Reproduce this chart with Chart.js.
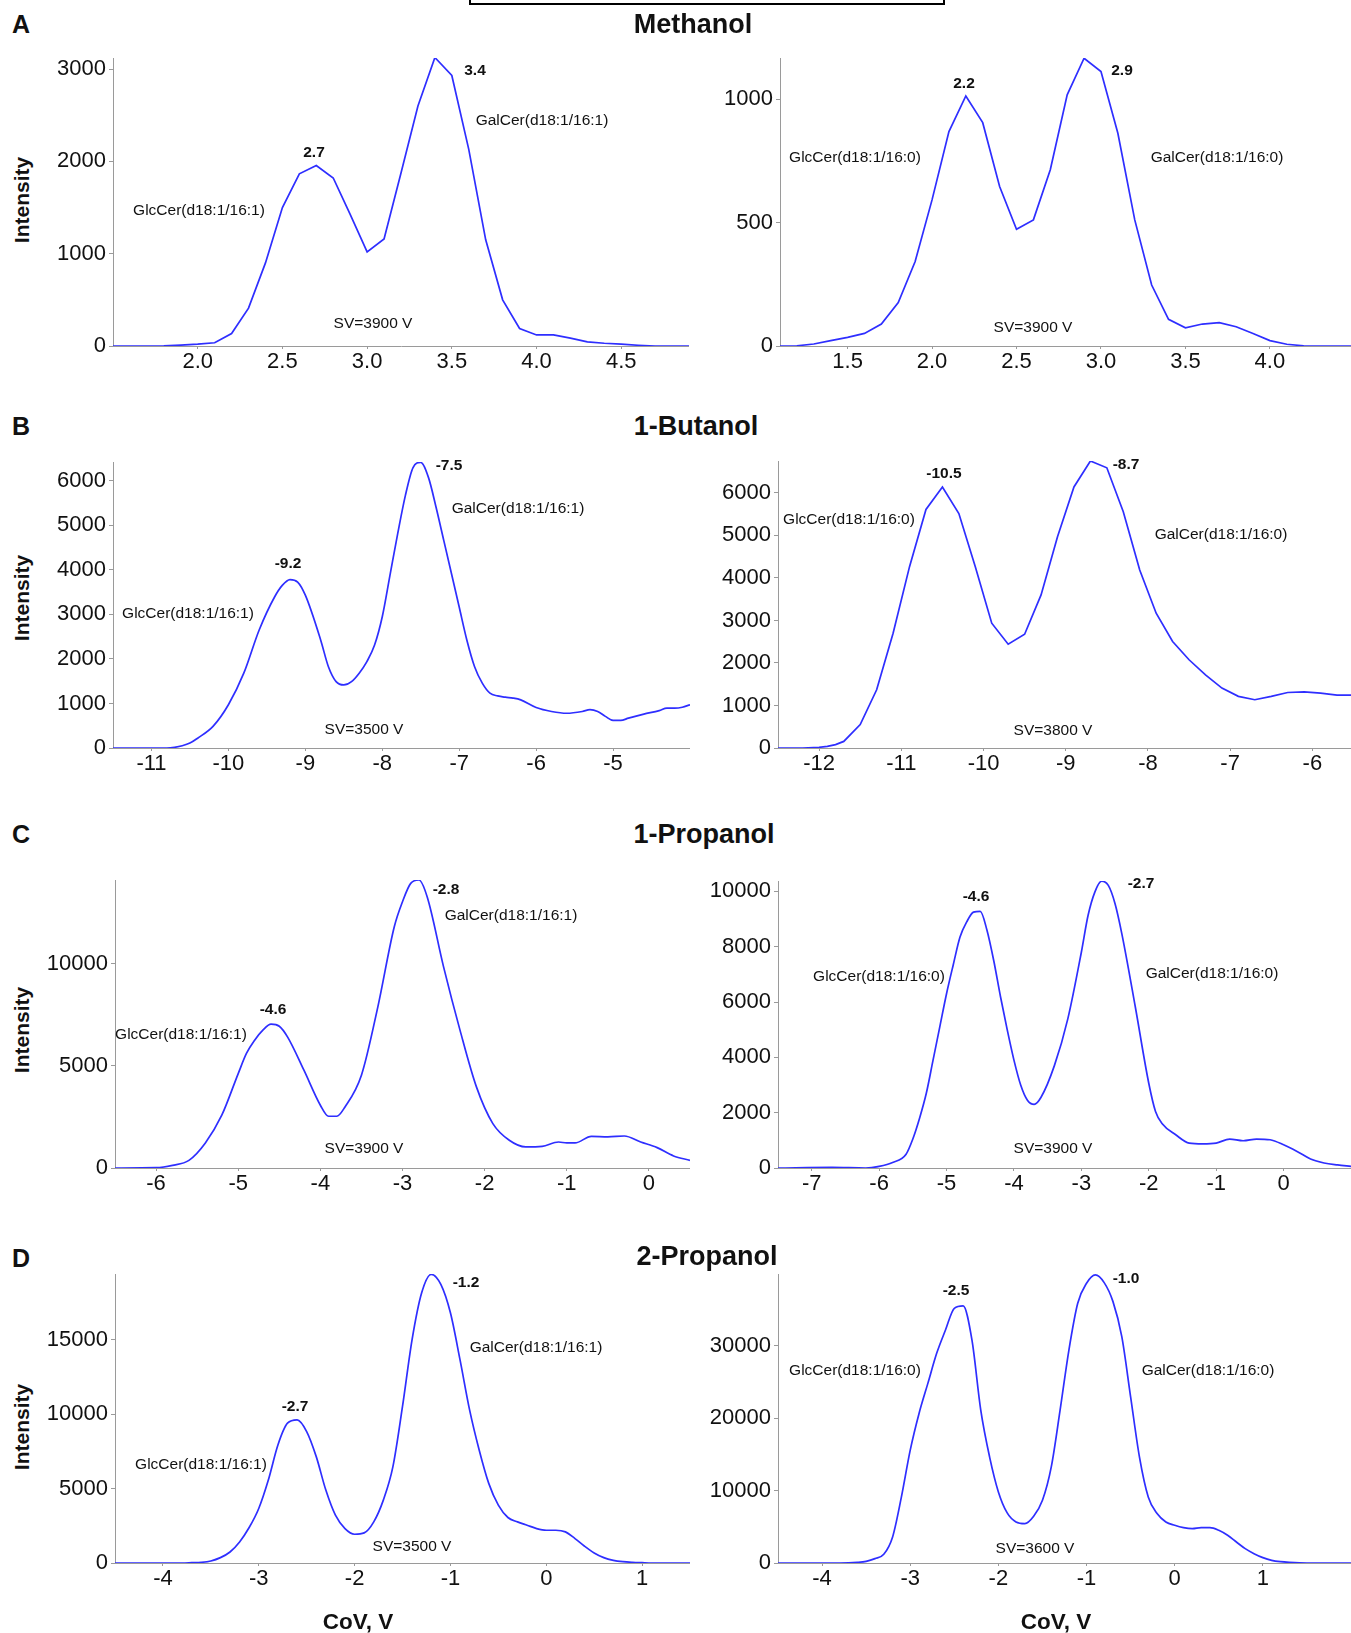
<!DOCTYPE html>
<html>
<head>
<meta charset="utf-8">
<title>GlcCer / GalCer CoV scans</title>
<script src="https://cdn.jsdelivr.net/npm/chart.js@4.4.1/dist/chart.umd.min.js"></script>
<style>
  html, body { margin: 0; padding: 0; background: #fff; overflow: hidden; }
  #figure { position: relative; width: 1351px; height: 1633px; font-family: "Liberation Sans", Arial, sans-serif; color: #111; }
  #figure canvas { position: absolute; }
  .txt { position: absolute; transform: translate(-50%, -50%); white-space: nowrap; line-height: 1; }
  .peak { font-weight: bold; font-size: 15.5px; }
  .name { font-size: 15.5px; }
  .title { font-weight: bold; font-size: 27px; }
  .letter { font-weight: bold; font-size: 25px; }
  .axis { font-weight: bold; font-size: 22.5px; }
  .ylab { font-weight: bold; font-size: 21px; transform: translate(-50%, -50%) rotate(-90deg); }
  .frame { position: absolute; left: 469px; top: -20px; width: 472px; height: 21px; border: 2px solid #000; }
</style>
</head>
<body>
<div id="figure"><div class="frame"></div></div>

<script>
/* =========================================================
   CoV SCANS - GlcCer / GalCer, 4 modifiers x 2 species
   ========================================================= */

// ---- A: Methanol ----
const X_METH_161 = [1.5, 1.6, 1.7, 1.8, 1.9, 2.0, 2.1, 2.2, 2.3, 2.4, 2.5, 2.6, 2.7, 2.8, 2.9, 3.0, 3.1, 3.2, 3.3, 3.4, 3.5, 3.6, 3.7, 3.8, 3.9, 4.0, 4.1, 4.2, 4.3, 4.4, 4.5, 4.6, 4.7, 4.8, 4.9];
const Y_METH_161 = [0, 0, 0, 2, 10, 20, 35, 135, 410, 900, 1500, 1865, 1955, 1820, 1425, 1020, 1160, 1875, 2600, 3125, 2930, 2130, 1150, 500, 190, 120, 120, 85, 45, 30, 20, 8, 0, 0, 0];
const XT_METH_161 = [2.0, 2.5, 3.0, 3.5, 4.0, 4.5];
const YT_METH_161 = [0, 1000, 2000, 3000];

const X_METH_160 = [1.1, 1.2, 1.3, 1.4, 1.5, 1.6, 1.7, 1.8, 1.9, 2.0, 2.1, 2.2, 2.3, 2.4, 2.5, 2.6, 2.7, 2.8, 2.9, 3.0, 3.1, 3.2, 3.3, 3.4, 3.5, 3.6, 3.7, 3.8, 3.9, 4.0, 4.1, 4.2, 4.3, 4.4, 4.5];
const Y_METH_160 = [0, 1, 8, 22, 35, 51, 89, 176, 342, 592, 869, 1013, 905, 646, 473, 511, 714, 1018, 1166, 1112, 862, 511, 247, 108, 74, 89, 95, 78, 51, 22, 7, 1, 0, 0, 0];
const XT_METH_160 = [1.5, 2.0, 2.5, 3.0, 3.5, 4.0];
const YT_METH_160 = [0, 500, 1000];

// ---- B: 1-Butanol ----
const X_BUT_161 = [-11.5, -10.8, -10.7, -10.6, -10.5, -10.4, -10.2, -10.0, -9.8, -9.6, -9.4, -9.3, -9.2, -9.1, -9.0, -8.8, -8.7, -8.6, -8.5, -8.4, -8.3, -8.2, -8.1, -8.0, -7.9, -7.8, -7.7, -7.6, -7.5, -7.4, -7.3, -7.2, -7.1, -7.0, -6.9, -6.8, -6.7, -6.6, -6.5, -6.4, -6.3, -6.2, -6.0, -5.8, -5.6, -5.4, -5.3, -5.2, -5.1, -5.0, -4.9, -4.8, -4.6, -4.4, -4.3, -4.2, -4.1, -4.0];
const Y_BUT_161 = [0, 0, 15, 50, 110, 220, 485, 970, 1680, 2650, 3390, 3650, 3780, 3725, 3430, 2420, 1825, 1490, 1415, 1490, 1680, 1940, 2310, 2945, 3875, 4805, 5665, 6295, 6410, 6075, 5400, 4655, 3910, 3165, 2420, 1825, 1455, 1230, 1170, 1140, 1120, 1080, 910, 820, 780, 820, 860, 820, 710, 620, 620, 670, 760, 840, 895, 895, 915, 970];
const XT_BUT_161 = [-11, -10, -9, -8, -7, -6, -5];
const YT_BUT_161 = [0, 1000, 2000, 3000, 4000, 5000, 6000];

const X_BUT_160 = [-12.5, -12.2, -12.0, -11.9, -11.8, -11.7, -11.5, -11.3, -11.1, -10.9, -10.7, -10.5, -10.3, -10.1, -9.9, -9.7, -9.5, -9.3, -9.1, -8.9, -8.7, -8.5, -8.3, -8.1, -7.9, -7.7, -7.5, -7.3, -7.1, -6.9, -6.7, -6.5, -6.3, -6.1, -5.9, -5.7, -5.5];
const Y_BUT_160 = [0, 0, 15, 40, 80, 155, 550, 1370, 2700, 4265, 5610, 6140, 5515, 4265, 2935, 2440, 2675, 3600, 4970, 6140, 6750, 6590, 5555, 4185, 3170, 2505, 2075, 1720, 1410, 1215, 1135, 1215, 1305, 1320, 1290, 1245, 1245];
const XT_BUT_160 = [-12, -11, -10, -9, -8, -7, -6];
const YT_BUT_160 = [0, 1000, 2000, 3000, 4000, 5000, 6000];

// ---- C: 1-Propanol ----
const X_PROP1_161 = [-6.5, -6.0, -5.8, -5.6, -5.4, -5.2, -5.0, -4.9, -4.8, -4.7, -4.6, -4.5, -4.4, -4.2, -4.0, -3.9, -3.8, -3.7, -3.5, -3.3, -3.1, -3.0, -2.9, -2.8, -2.7, -2.5, -2.3, -2.1, -1.9, -1.7, -1.5, -1.3, -1.1, -1.0, -0.9, -0.7, -0.5, -0.3, -0.1, 0.1, 0.3, 0.5];
const Y_PROP1_161 = [0, 15, 130, 375, 1225, 2580, 4615, 5600, 6250, 6740, 7030, 6930, 6410, 4780, 3070, 2530, 2530, 2985, 4535, 7880, 11795, 13020, 13915, 14080, 13265, 9835, 6740, 3965, 2170, 1355, 1030, 1060, 1270, 1225, 1225, 1550, 1520, 1565, 1270, 995, 590, 375];
const XT_PROP1_161 = [-6, -5, -4, -3, -2, -1, 0];
const YT_PROP1_161 = [0, 5000, 10000];

const X_PROP1_160 = [-7.5, -6.7, -6.2, -6.0, -5.8, -5.6, -5.5, -5.4, -5.3, -5.2, -5.1, -5.0, -4.9, -4.8, -4.7, -4.6, -4.5, -4.4, -4.3, -4.2, -4.1, -4.0, -3.9, -3.8, -3.7, -3.6, -3.4, -3.2, -3.0, -2.9, -2.8, -2.7, -2.6, -2.5, -2.4, -2.2, -2.0, -1.9, -1.8, -1.6, -1.4, -1.2, -1.0, -0.8, -0.6, -0.4, -0.2, 0.0, 0.2, 0.4, 0.6, 0.8, 1.0];
const Y_PROP1_160 = [0, 20, 0, 60, 200, 500, 1050, 1800, 2700, 3900, 5100, 6300, 7350, 8350, 8900, 9250, 9280, 8595, 7500, 6200, 5000, 3900, 3000, 2450, 2300, 2550, 3700, 5400, 7800, 9135, 9975, 10370, 10215, 9555, 8475, 5830, 3065, 2045, 1600, 1200, 900, 875, 900, 1045, 985, 1045, 1020, 840, 600, 325, 180, 110, 60];
const XT_PROP1_160 = [-7, -6, -5, -4, -3, -2, -1, 0];
const YT_PROP1_160 = [0, 2000, 4000, 6000, 8000, 10000];

// ---- D: 2-Propanol ----
const X_PROP2_161 = [-4.5, -3.8, -3.7, -3.6, -3.5, -3.4, -3.3, -3.2, -3.1, -3.0, -2.9, -2.8, -2.7, -2.6, -2.5, -2.4, -2.3, -2.2, -2.1, -2.0, -1.9, -1.8, -1.7, -1.6, -1.5, -1.4, -1.3, -1.2, -1.1, -1.0, -0.9, -0.8, -0.7, -0.6, -0.5, -0.4, -0.3, -0.2, -0.1, 0.0, 0.1, 0.2, 0.3, 0.4, 0.5, 0.6, 0.7, 0.8, 0.9, 1.0, 1.1, 1.5];
const Y_PROP2_161 = [0, 0, 20, 45, 135, 360, 740, 1415, 2380, 3660, 5570, 7925, 9385, 9610, 8825, 7140, 4895, 3210, 2310, 1930, 2020, 2760, 4220, 6465, 10510, 15000, 18140, 19375, 18700, 16795, 13650, 10280, 7590, 5345, 3885, 3055, 2760, 2535, 2310, 2200, 2200, 2090, 1640, 1125, 675, 360, 180, 90, 45, 20, 0, 0];
const XT_PROP2_161 = [-4, -3, -2, -1, 0, 1];
const YT_PROP2_161 = [0, 5000, 10000, 15000];

const X_PROP2_160 = [-4.5, -3.8, -3.6, -3.5, -3.4, -3.3, -3.2, -3.1, -3.0, -2.9, -2.8, -2.7, -2.6, -2.5, -2.4, -2.3, -2.2, -2.1, -2.0, -1.9, -1.8, -1.7, -1.6, -1.5, -1.4, -1.3, -1.2, -1.1, -1.0, -0.9, -0.8, -0.7, -0.6, -0.5, -0.4, -0.3, -0.2, -0.1, 0.0, 0.1, 0.2, 0.3, 0.4, 0.5, 0.6, 0.7, 0.8, 0.9, 1.0, 1.1, 1.2, 1.3, 1.5, 2.0];
const Y_PROP2_160 = [0, 0, 90, 230, 600, 1200, 3600, 9135, 15600, 20675, 24830, 28980, 32210, 35210, 35535, 30830, 21135, 14675, 9830, 6920, 5675, 5445, 6460, 8675, 13290, 21135, 29440, 35900, 38670, 39825, 38760, 36130, 31290, 22980, 14675, 9135, 6830, 5675, 5215, 4890, 4755, 4890, 4890, 4520, 3830, 2905, 1985, 1290, 740, 370, 185, 90, 0, 0];
const XT_PROP2_160 = [-4, -3, -2, -1, 0, 1];
const YT_PROP2_160 = [0, 10000, 20000, 30000];


const LINE_COLOR = "#2e2eff";
const AXIS_COLOR = "#9a9a9a";
const TICK_FONT = { family: "Liberation Sans, Arial, sans-serif", size: 22 };

const Y_AXIS_W = 75;
const X_AXIS_H = 36;
const PAD_TOP = 20;

const GLC_161 = "GlcCer(d18:1/16:1)";
const GAL_161 = "GalCer(d18:1/16:1)";
const GLC_160 = "GlcCer(d18:1/16:0)";
const GAL_160 = "GalCer(d18:1/16:0)";

// box = [left, top, right, bottom] of the plot area, in page pixels
const PANELS = [
  { xs: X_METH_161, ys: Y_METH_161, xTicks: XT_METH_161, yTicks: YT_METH_161, dec: 1,
    xMin: 1.5, xMax: 4.9, yMax: 3120, box: [113, 58, 689, 346], smooth: false,
    notes: [["2.7", 314, 152, "peak"], ["3.4", 475, 70, "peak"], [GLC_161, 199, 210, "name"], [GAL_161, 542, 120, "name"], ["SV=3900 V", 373, 323, "name"]] },
  { xs: X_METH_160, ys: Y_METH_160, xTicks: XT_METH_160, yTicks: YT_METH_160, dec: 1,
    xMin: 1.1, xMax: 4.48, yMax: 1167, box: [780, 58, 1351, 346], smooth: false,
    notes: [["2.2", 964, 83, "peak"], ["2.9", 1122, 70, "peak"], [GLC_160, 855, 157, "name"], [GAL_160, 1217, 157, "name"], ["SV=3900 V", 1033, 327, "name"]] },
  { xs: X_BUT_161, ys: Y_BUT_161, xTicks: XT_BUT_161, yTicks: YT_BUT_161, dec: 0,
    xMin: -11.5, xMax: -4.0, yMax: 6420, box: [113, 462, 690, 748], smooth: true,
    notes: [["-9.2", 288, 563, "peak"], ["-7.5", 449, 465, "peak"], [GLC_161, 188, 613, "name"], [GAL_161, 518, 508, "name"], ["SV=3500 V", 364, 729, "name"]] },
  { xs: X_BUT_160, ys: Y_BUT_160, xTicks: XT_BUT_160, yTicks: YT_BUT_160, dec: 0,
    xMin: -12.5, xMax: -5.53, yMax: 6750, box: [778, 461, 1351, 748], smooth: false,
    notes: [["-10.5", 944, 473, "peak"], ["-8.7", 1126, 464, "peak"], [GLC_160, 849, 519, "name"], [GAL_160, 1221, 534, "name"], ["SV=3800 V", 1053, 730, "name"]] },
  { xs: X_PROP1_161, ys: Y_PROP1_161, xTicks: XT_PROP1_161, yTicks: YT_PROP1_161, dec: 0,
    xMin: -6.5, xMax: 0.5, yMax: 14080, box: [115, 880, 690, 1168], smooth: true,
    notes: [["-4.6", 273, 1009, "peak"], ["-2.8", 446, 889, "peak"], [GLC_161, 181, 1034, "name"], [GAL_161, 511, 915, "name"], ["SV=3900 V", 364, 1148, "name"]] },
  { xs: X_PROP1_160, ys: Y_PROP1_160, xTicks: XT_PROP1_160, yTicks: YT_PROP1_160, dec: 0,
    xMin: -7.5, xMax: 1.0, yMax: 10375, box: [778, 881, 1351, 1168], smooth: true,
    notes: [["-4.6", 976, 896, "peak"], ["-2.7", 1141, 883, "peak"], [GLC_160, 879, 976, "name"], [GAL_160, 1212, 973, "name"], ["SV=3900 V", 1053, 1148, "name"]] },
  { xs: X_PROP2_161, ys: Y_PROP2_161, xTicks: XT_PROP2_161, yTicks: YT_PROP2_161, dec: 0,
    xMin: -4.5, xMax: 1.5, yMax: 19400, box: [115, 1274, 690, 1563], smooth: true,
    notes: [["-2.7", 295, 1406, "peak"], ["-1.2", 466, 1282, "peak"], [GLC_161, 201, 1464, "name"], [GAL_161, 536, 1347, "name"], ["SV=3500 V", 412, 1546, "name"]] },
  { xs: X_PROP2_160, ys: Y_PROP2_160, xTicks: XT_PROP2_160, yTicks: YT_PROP2_160, dec: 0,
    xMin: -4.5, xMax: 2.0, yMax: 39950, box: [778, 1274, 1351, 1563], smooth: true,
    notes: [["-2.5", 956, 1290, "peak"], ["-1.0", 1126, 1278, "peak"], [GLC_160, 855, 1370, "name"], [GAL_160, 1208, 1370, "name"], ["SV=3600 V", 1035, 1548, "name"]] },
];

// headings, panel letters and axis titles
const LABELS = [
  ["Methanol", 693, 24, "title"], ["1-Butanol", 696, 426, "title"],
  ["1-Propanol", 704, 834, "title"], ["2-Propanol", 707, 1256, "title"],
  ["A", 21, 24, "letter"], ["B", 21, 426, "letter"], ["C", 21, 834, "letter"], ["D", 21, 1258, "letter"],
  ["Intensity", 21, 200, "ylab"], ["Intensity", 21, 598, "ylab"],
  ["Intensity", 21, 1030, "ylab"], ["Intensity", 21, 1427, "ylab"],
  ["CoV, V", 358, 1622, "axis"], ["CoV, V", 1056, 1622, "axis"],
];


document.addEventListener("DOMContentLoaded", function () {
  const figure = document.getElementById("figure");

  PANELS.forEach((panel) => createPanel(figure, panel));

  PANELS.forEach((panel) => {
    panel.notes.forEach((note) => addText(figure, note));
  });

  LABELS.forEach((label) => addText(figure, label));
});


function addText(figure, item) {
  const [text, x, y, cls] = item;
  const div = document.createElement("div");

  div.className = "txt " + cls;
  div.textContent = text;
  div.style.left = x + "px";
  div.style.top = y + "px";

  figure.appendChild(div);
}


function createPanel(figure, panel) {
  const [left, top, right, bottom] = panel.box;
  const width = right - left + Y_AXIS_W;
  const height = bottom - top + PAD_TOP + X_AXIS_H;

  const canvas = document.createElement("canvas");
  canvas.width = width;
  canvas.height = height;
  canvas.style.width = width + "px";
  canvas.style.height = height + "px";
  canvas.style.left = left - Y_AXIS_W + "px";
  canvas.style.top = top - PAD_TOP + "px";
  figure.appendChild(canvas);

  const points = panel.xs.map((x, i) => ({ x: x, y: panel.ys[i] }));

  new Chart(canvas, {
    type: "line",
    data: {
      datasets: [
        {
          data: points,
          borderColor: LINE_COLOR,
          borderWidth: 1.7,
          pointRadius: 0,
          fill: false,
          cubicInterpolationMode: panel.smooth ? "monotone" : "default",
          tension: 0,
        },
      ],
    },
    options: {
      responsive: false,
      animation: false,
      layout: { padding: { top: PAD_TOP, left: 0, right: 0, bottom: 0 } },
      plugins: {
        legend: { display: false },
        tooltip: { enabled: false },
      },
      scales: {
        x: {
          type: "linear",
          min: panel.xMin,
          max: panel.xMax,
          afterBuildTicks: (scale) => {
            scale.ticks = panel.xTicks.map((v) => ({ value: v }));
          },
          afterFit: (scale) => {
            scale.height = X_AXIS_H;
          },
          grid: { drawOnChartArea: false, tickLength: 3, color: AXIS_COLOR },
          border: { color: AXIS_COLOR, width: 1 },
          ticks: {
            font: TICK_FONT,
            color: "#111",
            padding: 0,
            maxRotation: 0,
            autoSkip: false,
            callback: (value) => Number(value).toFixed(panel.dec),
          },
        },
        y: {
          min: 0,
          max: panel.yMax,
          afterBuildTicks: (scale) => {
            scale.ticks = panel.yTicks.map((v) => ({ value: v }));
          },
          afterFit: (scale) => {
            scale.width = Y_AXIS_W;
          },
          grid: { drawOnChartArea: false, tickLength: 4, color: AXIS_COLOR },
          border: { color: AXIS_COLOR, width: 1 },
          ticks: {
            font: TICK_FONT,
            color: "#111",
            padding: 3,
            autoSkip: false,
            callback: (value) => String(value),
          },
        },
      },
    },
  });
}
</script>
</body>
</html>
